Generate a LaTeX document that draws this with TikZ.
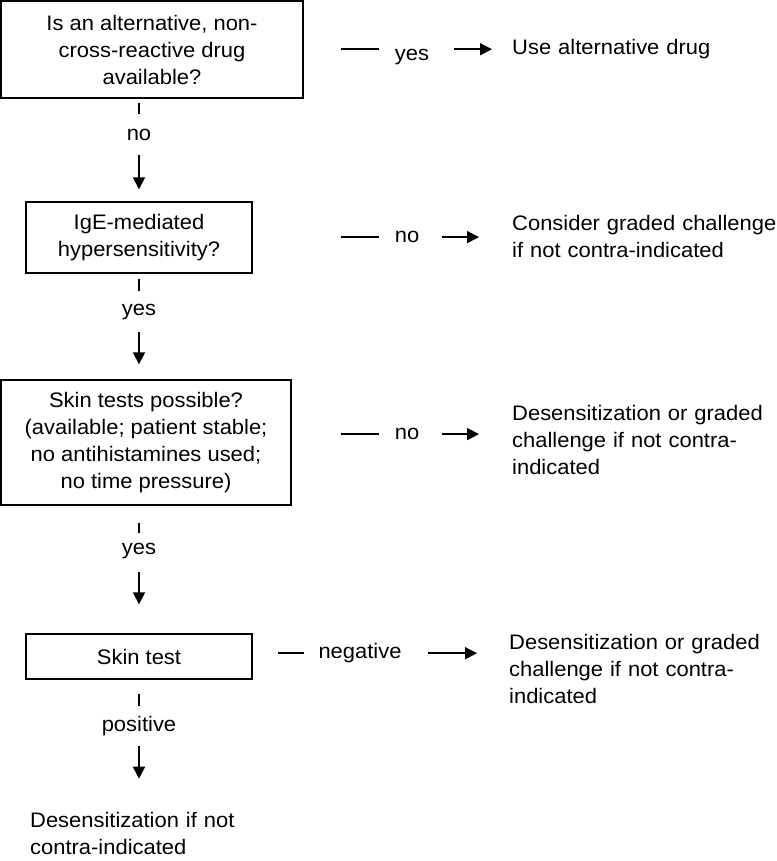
\documentclass[tikz,border=0pt]{standalone}
\usepackage{fontspec}
\setmainfont{Liberation Sans}[FakeStretch=1.045]
\usetikzlibrary{arrows.meta,positioning}
\tikzset{
  qbox/.style={draw, line width=1.4pt, align=center, inner sep=0pt},
  lbl/.style={anchor=mid, inner sep=0pt},
  outcome/.style={anchor=mid west, align=left, inner sep=0pt, text width=268pt},
  stub/.style={line width=1.8pt},
  arr/.style={line width=1.8pt, -{Triangle[length=12pt,width=12pt]}}
}

\begin{document}
\begin{tikzpicture}[x=1pt, y=-1pt, font=\fontsize{21}{27}\selectfont]
  \useasboundingbox (0,0) rectangle (776,861);
  % question boxes
  \node[qbox, minimum width=302pt, minimum height=97pt] (alt) at (152,49.5)
    {Is an alternative, non-\\cross-reactive drug\\available?};
  \node[qbox, minimum width=226pt, minimum height=71pt] (ige) at (139,237.5)
    {IgE-mediated\\hypersensitivity?};
  \node[qbox, minimum width=290pt, minimum height=125pt] (possible) at (146,442.5)
    {Skin tests possible?\\(available; patient stable;\\no antihistamines used;\\no time pressure)};
  \node[qbox, minimum width=226pt, minimum height=45pt] (skintest) at (139,656.5)
    {Skin test};
  % outcomes
  \node[outcome] (useAlt) at (512,52) {Use alternative drug};
  \node[outcome] (graded) at (512,227.5) {Consider graded challenge\\if not contra-indicated};
  \node[outcome] (desens) at (512,417.5) {Desensitization or graded\\challenge if not contra-\\indicated};
  \node[outcome] (desensNeg) at (509,646.5) {Desensitization or graded\\challenge if not contra-\\indicated};
  \node[outcome] (desensPos) at (30,824.5) {Desensitization if not\\contra-indicated};
  % branch labels
  \node[lbl] (noAlt) at (139,138) {no};
  \node[lbl] (yesIge) at (139,313) {yes};
  \node[lbl] (yesPossible) at (139,552) {yes};
  \node[lbl] (positive) at (139,729) {positive};
  \node[lbl] (yesAlt) at (412,58) {yes};
  \node[lbl] (noIge) at (407,240) {no};
  \node[lbl] (noPossible) at (407,437) {no};
  \node[lbl] (negative) at (360,656) {negative};
  % downward connectors
  \draw[stub] (alt.south -| noAlt) ++(0,4) -- ++(0,11);
  \draw[arr, shorten >=12pt] (noAlt) ++(0,20) -- (ige.north -| noAlt);
  \draw[stub] (ige.south -| yesIge) ++(0,5) -- ++(0,12);
  \draw[arr, shorten >=15pt] (yesIge) ++(0,20) -- (possible.north -| yesIge);
  \draw[stub] (possible.south -| yesPossible) ++(0,17) -- ++(0,10);
  \draw[arr, shorten >=29pt] (yesPossible) ++(0,21) -- (skintest.north -| yesPossible);
  \draw[stub] (skintest.south -| positive) ++(0,14) -- ++(0,12);
  \draw[arr, shorten >=33pt] (positive) ++(0,20) -- (desensPos.north -| positive);
  % sideways connectors
  \draw[stub] (alt.east |- useAlt) ++(37,0) -- ++(38,0);
  \draw[arr, shorten >=20pt] (yesAlt |- useAlt) ++(42,0) -- (useAlt.west);
  \draw[stub] (ige.east |- noIge) ++(88,0) -- ++(38,0);
  \draw[arr, shorten >=33pt] (noIge) ++(35,0) -- (graded.west |- noIge);
  \draw[stub] (possible.east |- noPossible) ++(49,0) -- ++(38,0);
  \draw[arr, shorten >=33pt] (noPossible) ++(35,0) -- (desens.west |- noPossible);
  \draw[stub] (skintest.east |- negative) ++(25,0) -- ++(26,0);
  \draw[arr, shorten >=32pt] (negative) ++(68,0) -- (desensNeg.west |- negative);
\end{tikzpicture}
\end{document}
